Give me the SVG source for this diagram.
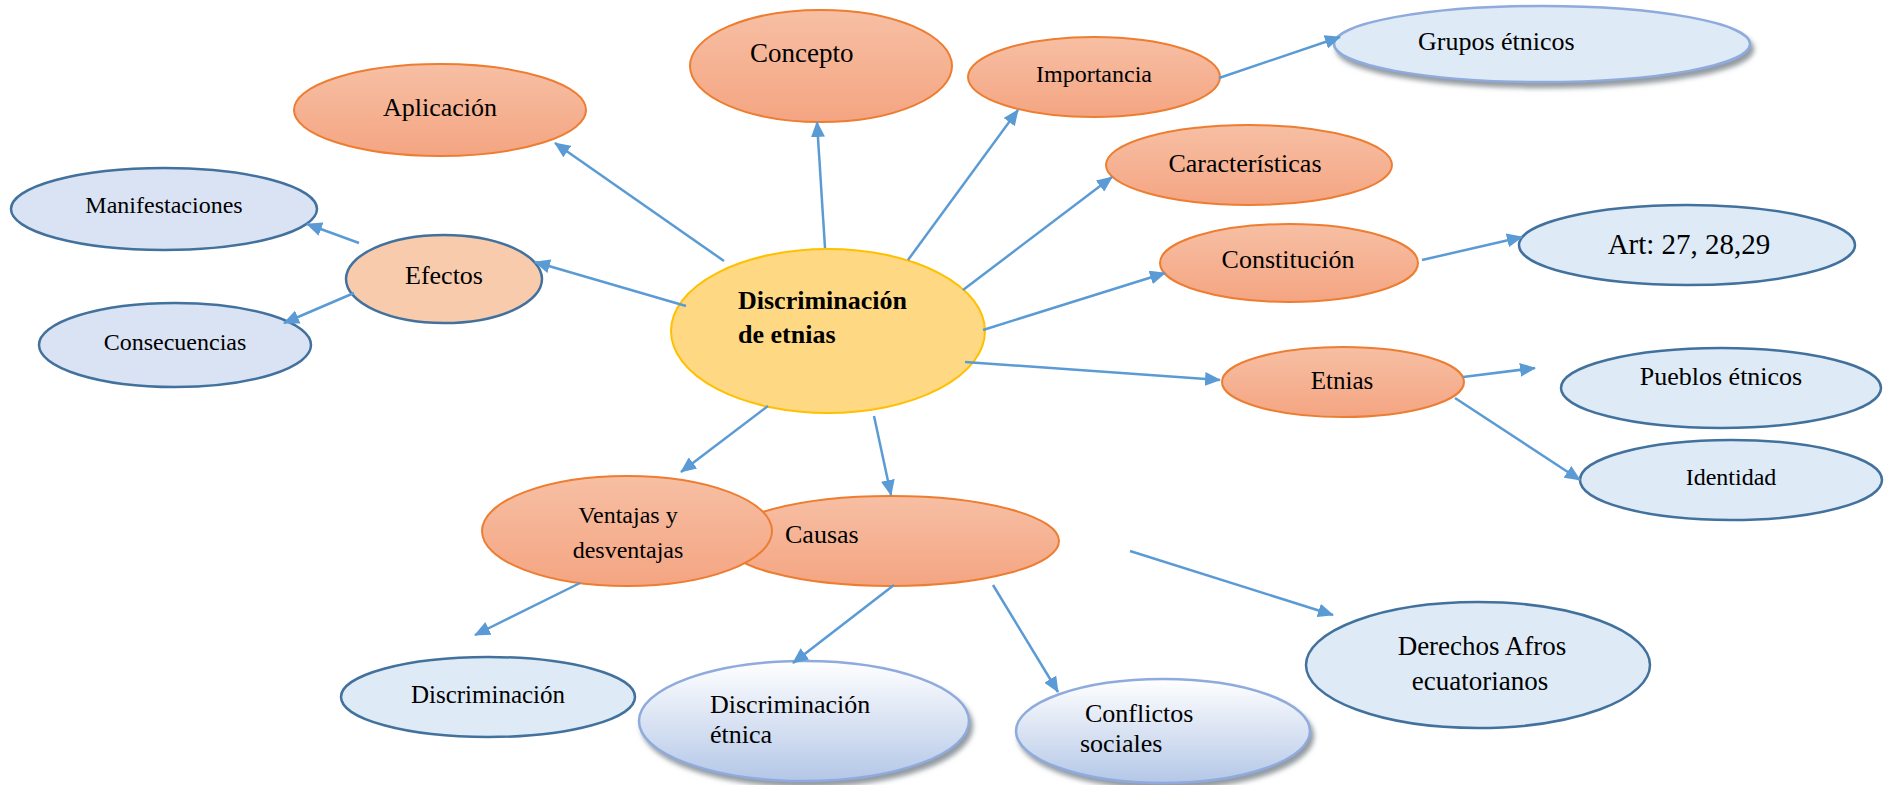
<svg xmlns="http://www.w3.org/2000/svg" width="1889" height="785" viewBox="0 0 1889 785">
<style>
text{font-family:"Liberation Serif","Times New Roman",serif;fill:#000;}
.c{text-anchor:middle;}
.org{fill:url(#gOrange);stroke:#ED7D31;stroke-width:2;}
.blu{fill:#DAE3F3;stroke:#41719C;stroke-width:2.5;}
.blu2{fill:#DEEBF7;stroke:#41719C;stroke-width:2.5;}
.sh{fill:#DEEAF6;stroke:#8FAADC;stroke-width:2.5;filter:url(#shadow);}
.gr{fill:url(#gBlue);stroke:#8FAADC;stroke-width:2.5;filter:url(#shadow);}
.ln{stroke:#5B9BD5;stroke-width:2.5;fill:none;marker-end:url(#ah);}
</style>
<defs>
<linearGradient id="gOrange" x1="0" y1="0" x2="0" y2="1">
<stop offset="0" stop-color="#F7BFA4"/>
<stop offset="1" stop-color="#F4A582"/>
</linearGradient>
<linearGradient id="gBlue" x1="0" y1="0" x2="0" y2="1">
<stop offset="0" stop-color="#FFFFFF"/>
<stop offset="1" stop-color="#B4C7E7"/>
</linearGradient>
<filter id="shadow" x="-10%" y="-10%" width="125%" height="135%">
<feDropShadow dx="3" dy="5" stdDeviation="2.5" flood-color="#808890" flood-opacity="0.85"/>
</filter>
<marker id="ah" markerWidth="16" markerHeight="14" refX="15" refY="7" orient="auto" markerUnits="userSpaceOnUse">
<path d="M0,0 L16,7 L0,14 z" fill="#5B9BD5"/>
</marker>
</defs>
<rect width="1889" height="785" fill="#FFFFFF"/>

<g id="node-aplicacion"><ellipse class="org" cx="440" cy="110" rx="146" ry="46"/><text class="c" x="440" y="116" font-size="26">Aplicación</text></g>
<g id="node-concepto"><ellipse class="org" cx="821" cy="66" rx="131" ry="56"/><text x="750" y="62" font-size="27">Concepto</text></g>
<g id="node-importancia"><ellipse class="org" cx="1094" cy="77" rx="126" ry="40"/><text class="c" x="1094" y="82" font-size="24">Importancia</text></g>
<g id="node-grupos"><ellipse class="sh" cx="1542" cy="44" rx="208" ry="38"/><text x="1418" y="50" font-size="26">Grupos étnicos</text></g>
<g id="node-caracteristicas"><ellipse class="org" cx="1249" cy="165" rx="143" ry="40"/><text class="c" x="1245" y="172" font-size="26">Características</text></g>
<g id="node-constitucion"><ellipse class="org" cx="1289" cy="263" rx="129" ry="39"/><text class="c" x="1288" y="268" font-size="26">Constitución</text></g>
<g id="node-art"><ellipse class="blu2" cx="1687" cy="245" rx="168" ry="40"/><text class="c" x="1689" y="254" font-size="29">Art: 27, 28,29</text></g>
<g id="node-etnias"><ellipse class="org" cx="1343" cy="382" rx="121" ry="35"/><text class="c" x="1342" y="389" font-size="25">Etnias</text></g>
<g id="node-pueblos"><ellipse class="blu2" cx="1721" cy="388" rx="160" ry="40"/><text class="c" x="1721" y="385" font-size="26">Pueblos étnicos</text></g>
<g id="node-identidad"><ellipse class="blu2" cx="1731" cy="480" rx="151" ry="40"/><text class="c" x="1731" y="485" font-size="24">Identidad</text></g>
<g id="node-manifestaciones"><ellipse class="blu" cx="164" cy="209" rx="153" ry="41"/><text class="c" x="164" y="213" font-size="24">Manifestaciones</text></g>
<g id="node-efectos"><ellipse fill="#F8CBAD" stroke="#41719C" stroke-width="2.5" cx="444" cy="279" rx="98" ry="44"/><text class="c" x="444" y="284" font-size="26">Efectos</text></g>
<g id="node-consecuencias"><ellipse class="blu" cx="175" cy="345" rx="136" ry="42"/><text class="c" x="175" y="350" font-size="24">Consecuencias</text></g>
<g id="node-central"><ellipse fill="#FED883" stroke="#FFC000" stroke-width="2" cx="828" cy="331" rx="157" ry="82"/><text x="738" y="309" font-size="26" font-weight="bold">Discriminación</text><text x="738" y="343" font-size="26" font-weight="bold">de etnias</text></g>
<g id="node-causas"><ellipse class="org" cx="891" cy="541" rx="168" ry="45"/><text x="785" y="543" font-size="26">Causas</text></g>
<g id="node-ventajas"><ellipse class="org" cx="627" cy="531" rx="145" ry="55"/><text class="c" x="628" y="523" font-size="24">Ventajas y</text><text class="c" x="628" y="558" font-size="24">desventajas</text></g>
<g id="node-discriminacion"><ellipse class="blu2" cx="488" cy="697" rx="147" ry="40"/><text class="c" x="488" y="703" font-size="25">Discriminación</text></g>
<g id="node-discriminacion-etnica"><ellipse class="gr" cx="804" cy="721" rx="165" ry="60"/><text x="710" y="713" font-size="26">Discriminación</text><text x="710" y="743" font-size="26">étnica</text></g>
<g id="node-conflictos"><ellipse class="gr" cx="1163" cy="731" rx="147" ry="52"/><text x="1085" y="722" font-size="26">Conflictos</text><text x="1080" y="752" font-size="26">sociales</text></g>
<g id="node-derechos"><ellipse class="blu2" cx="1478" cy="665" rx="172" ry="63"/><text class="c" x="1482" y="655" font-size="27">Derechos Afros</text><text class="c" x="1480" y="690" font-size="27">ecuatorianos</text></g>

<g id="connectors">
<line class="ln" x1="724" y1="261" x2="555" y2="143"/>
<line class="ln" x1="686" y1="306" x2="535" y2="262"/>
<line class="ln" x1="359" y1="243" x2="307" y2="224"/>
<line class="ln" x1="354" y1="293" x2="284" y2="323"/>
<line class="ln" x1="825" y1="248" x2="817" y2="122"/>
<line class="ln" x1="908" y1="260" x2="1018" y2="110"/>
<line class="ln" x1="1219" y1="78" x2="1340" y2="37"/>
<line class="ln" x1="963" y1="290" x2="1112" y2="177"/>
<line class="ln" x1="983" y1="330" x2="1165" y2="273"/>
<line class="ln" x1="1422" y1="260" x2="1522" y2="237"/>
<line class="ln" x1="965" y1="362" x2="1220" y2="380"/>
<line class="ln" x1="1463" y1="377" x2="1535" y2="368"/>
<line class="ln" x1="1455" y1="398" x2="1580" y2="480"/>
<line class="ln" x1="768" y1="406" x2="681" y2="472"/>
<line class="ln" x1="874" y1="416" x2="891" y2="495"/>
<line class="ln" x1="580" y1="583" x2="475" y2="635"/>
<line class="ln" x1="894" y1="585" x2="793" y2="663"/>
<line class="ln" x1="993" y1="585" x2="1058" y2="692"/>
<line class="ln" x1="1130" y1="551" x2="1333" y2="615"/>
</g>
</svg>
